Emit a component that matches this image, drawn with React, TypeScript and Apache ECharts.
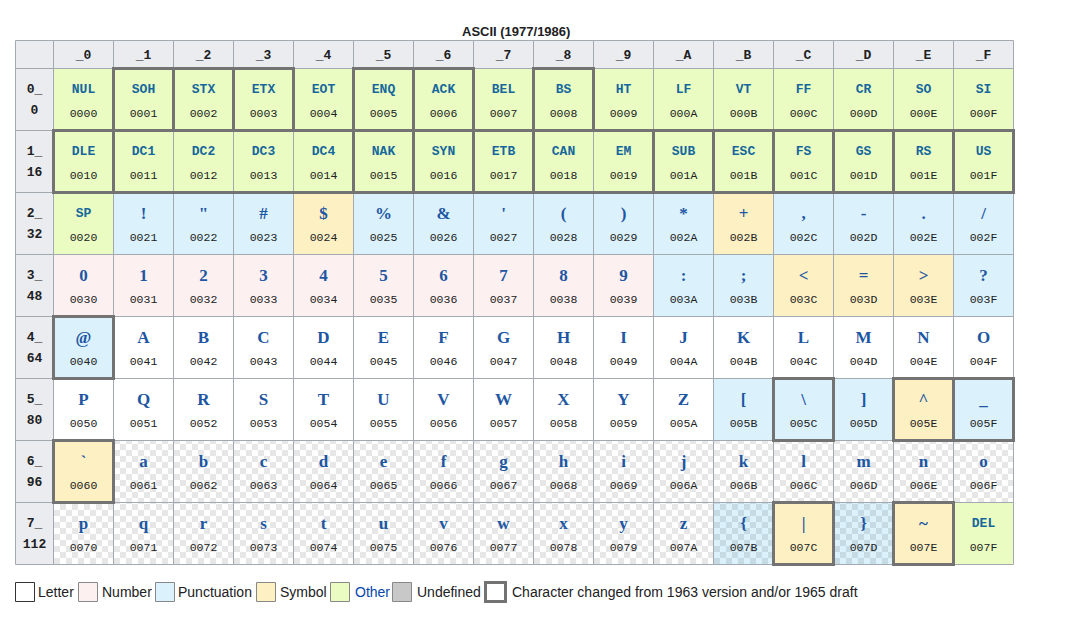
import React, { useEffect, useRef } from 'react';
import * as echarts from 'echarts';

const titleText = 'ASCII (1977/1986)';
const columnLabels = ['_0', '_1', '_2', '_3', '_4', '_5', '_6', '_7', '_8', '_9', '_A', '_B', '_C', '_D', '_E', '_F'];
const rowLabels = ['0_', '1_', '2_', '3_', '4_', '5_', '6_', '7_'];
const rowDecimals = ['0', '16', '32', '48', '64', '80', '96', '112'];
const controlNames = [
  'NUL', 'SOH', 'STX', 'ETX', 'EOT', 'ENQ', 'ACK', 'BEL', 'BS', 'HT', 'LF', 'VT', 'FF', 'CR', 'SO', 'SI',
  'DLE', 'DC1', 'DC2', 'DC3', 'DC4', 'NAK', 'SYN', 'ETB', 'CAN', 'EM', 'SUB', 'ESC', 'FS', 'GS', 'RS', 'US',
];
const specialNames: Record<number, string> = { 32: 'SP', 127: 'DEL' };
// L = letter, N = number, P = punctuation, S = symbol, O = other
const rowCategories = [
  'OOOOOOOOOOOOOOOO',
  'OOOOOOOOOOOOOOOO',
  'OPPPSPPPPPPSPPPP',
  'NNNNNNNNNNPPSSSP',
  'PLLLLLLLLLLLLLLL',
  'LLLLLLLLLLLPPPSP',
  'SLLLLLLLLLLLLLLL',
  'LLLLLLLLLLLPSPSO',
];
const patternRows = [
  '................',
  '................',
  '................',
  '................',
  '................',
  '................',
  '.XXXXXXXXXXXXXXX',
  'XXXXXXXXXXXX.X..',
];
// [row, startCol, endCol]
const changedSpans = [
  [0, 1, 1], [0, 2, 2], [0, 3, 3], [0, 5, 5], [0, 6, 6], [0, 8, 8],
  [1, 0, 0], [1, 1, 4], [1, 5, 5], [1, 6, 6], [1, 7, 7], [1, 8, 9], [1, 10, 10],
  [1, 11, 11], [1, 12, 12], [1, 13, 13], [1, 14, 14], [1, 15, 15],
  [4, 0, 0], [5, 12, 12], [5, 14, 14], [5, 15, 15], [6, 0, 0], [7, 12, 12], [7, 14, 14],
];
const legendItems = [
  { name: 'Letter', key: 'L' },
  { name: 'Number', key: 'N' },
  { name: 'Punctuation', key: 'P' },
  { name: 'Symbol', key: 'S' },
  { name: 'Other', key: 'O' },
  { name: 'Undefined', key: 'U' },
];
const changedLegend = 'Character changed from 1963 version and/or 1965 draft';

const categoryColors: Record<string, string> = {
  L: '#ffffff',
  N: '#fdf0f0',
  P: '#dbf1fc',
  S: '#fdf0c3',
  O: '#eafcc2',
  U: '#c8c8c8',
};

const X_MIN = -38 / 60;
const Y_MIN = -28 / 62;
const GRID_LINE = '#a2a9b1';
const HEADER_BG = '#eaecf0';
const SANS = "'Liberation Sans', Arial, sans-serif";
const MONO = "'Liberation Mono', 'Courier New', monospace";
const SERIF = "'Liberation Serif', 'Times New Roman', serif";

function makePattern() {
  const cv = document.createElement('canvas');
  cv.width = 12;
  cv.height = 12;
  const ctx = cv.getContext('2d')!;
  ctx.clearRect(0, 0, 12, 12);
  ctx.fillStyle = 'rgba(0,0,0,0.095)';
  ctx.fillRect(0, 0, 6, 6);
  ctx.fillRect(6, 6, 6, 6);
  return cv;
}

export default function App() {
  const ref = useRef<HTMLDivElement>(null);
  useEffect(() => {
    const chart = echarts.init(ref.current!, null, { renderer: 'svg' });
    const patternCanvas = makePattern();
    const pattern: any = { image: patternCanvas, repeat: 'repeat', imageWidth: 12, imageHeight: 12 };

    const cells: any[] = [];
    rowCategories.forEach((cats, r) => {
      for (let c = 0; c < 16; c++) {
        const code = r * 16 + c;
        const name = code < 32 ? controlNames[code] : specialNames[code];
        cells.push({
          value: [c, r],
          code,
          cat: cats[c],
          patterned: patternRows[r][c] === 'X',
          isName: !!name,
          label: name || String.fromCharCode(code),
          hex: '00' + code.toString(16).toUpperCase().padStart(2, '0'),
        });
      }
    });

    const headers: any[] = [{ value: [-1, -1], kind: 'corner' }];
    columnLabels.forEach((l, c) => headers.push({ value: [c, -1], kind: 'col', label: l }));
    rowLabels.forEach((l, r) => headers.push({ value: [-1, r], kind: 'row', label: l, sub: rowDecimals[r] }));

    const bounds = (api: any, c: number, r: number, c2?: number) => {
      const x0 = c === -1 ? X_MIN : c;
      const x1 = c === -1 ? 0 : (c2 !== undefined ? c2 : c) + 1;
      const y0 = r === -1 ? Y_MIN : r;
      const y1 = r === -1 ? 0 : r + 1;
      const p0 = api.coord([x0, y0]);
      const p1 = api.coord([x1, y1]);
      return { x: Math.round(p0[0]) + 0.5, y: Math.round(p0[1]) + 0.5, w: Math.round(p1[0]) - Math.round(p0[0]), h: Math.round(p1[1]) - Math.round(p0[1]) };
    };

    const txt = (x: number, y: number, text: string, font: string, fill: string) => ({
      type: 'text',
      x,
      y,
      style: { text, font, fill, align: 'center', verticalAlign: 'middle', textAlign: 'center', textVerticalAlign: 'middle' },
    });

    const option: any = {
      animation: false,
      backgroundColor: '#ffffff',
      title: {
        text: titleText,
        left: 457,
        top: 20,
        textStyle: { fontFamily: SANS, fontSize: 13, fontWeight: 'bold', color: '#202122' },
      },
      grid: { left: 15, top: 40, width: 998, height: 524 },
      xAxis: { type: 'value', min: X_MIN, max: 16, show: false },
      yAxis: { type: 'value', min: Y_MIN, max: 8, inverse: true, show: false },
      series: [
        {
          type: 'custom',
          name: 'headers',
          data: headers,
          z: 2,
          renderItem: (params: any, api: any) => {
            const d = headers[params.dataIndex];
            const b = bounds(api, d.value[0], d.value[1]);
            const children: any[] = [
              { type: 'rect', shape: { x: b.x, y: b.y, width: b.w, height: b.h }, style: { fill: HEADER_BG, stroke: GRID_LINE, lineWidth: 1 } },
            ];
            if (d.kind === 'col') {
              children.push(txt(b.x + b.w / 2, b.y + b.h / 2 + 1, d.label, `bold 13px ${MONO}`, '#202122'));
            } else if (d.kind === 'row') {
              children.push(txt(b.x + b.w / 2, b.y + 21, d.label, `bold 13px ${MONO}`, '#202122'));
              children.push(txt(b.x + b.w / 2, b.y + 42, d.sub, `bold 13px ${MONO}`, '#202122'));
            }
            return { type: 'group', children };
          },
        },
        {
          type: 'custom',
          name: 'cells',
          data: cells,
          z: 2,
          renderItem: (params: any, api: any) => {
            const d = cells[params.dataIndex];
            const b = bounds(api, d.value[0], d.value[1]);
            const children: any[] = [
              { type: 'rect', shape: { x: b.x, y: b.y, width: b.w, height: b.h }, style: { fill: categoryColors[d.cat], stroke: GRID_LINE, lineWidth: 1 } },
            ];
            if (d.patterned) {
              children.push({ type: 'rect', shape: { x: b.x + 0.5, y: b.y + 0.5, width: b.w - 1, height: b.h - 1 }, style: { fill: pattern } });
            }
            if (d.isName) {
              children.push(txt(b.x + b.w / 2, b.y + 20.5, d.label, `bold 13px ${MONO}`, '#16679c'));
            } else {
              children.push(txt(b.x + b.w / 2, b.y + 20.5, d.label, `bold 17px ${SERIF}`, '#1d56a2'));
            }
            children.push(txt(b.x + b.w / 2, b.y + 45, d.hex, `11.5px ${MONO}`, '#202122'));
            return { type: 'group', children };
          },
        },
        {
          type: 'custom',
          name: 'changed',
          data: changedSpans.map((s) => ({ value: [s[1], s[0], s[2]] })),
          z: 3,
          renderItem: (params: any, api: any) => {
            const s = changedSpans[params.dataIndex];
            const b = bounds(api, s[1], s[0], s[2]);
            return {
              type: 'rect',
              shape: { x: b.x, y: b.y, width: b.w, height: b.h },
              style: { fill: 'none', stroke: '#737373', lineWidth: 3 },
            };
          },
        },
      ],
      graphic: (() => {
        const els: any[] = [];
        const boxX = [15, 78, 155, 256, 330, 392];
        const textX = [38, 102, 178, 280, 355, 417];
        legendItems.forEach((it, i) => {
          els.push({
            type: 'rect',
            shape: { x: boxX[i] + 0.5, y: 582.5, width: 19, height: 19 },
            style: { fill: categoryColors[it.key], stroke: i === 0 ? '#333' : '#888', lineWidth: 1 },
          });
          els.push({
            type: 'text',
            x: textX[i],
            y: 592,
            style: {
              text: it.name,
              font: `14px ${SANS}`,
              fill: it.key === 'O' ? '#0645ad' : '#202122',
              verticalAlign: 'middle',
              textVerticalAlign: 'middle',
            },
          });
        });
        els.push({
          type: 'rect',
          shape: { x: 485.5, y: 582.5, width: 20, height: 19 },
          style: { fill: '#ffffff', stroke: '#737373', lineWidth: 3 },
        });
        els.push({
          type: 'text',
          x: 512,
          y: 592,
          style: { text: changedLegend, font: `14px ${SANS}`, fill: '#202122', verticalAlign: 'middle', textVerticalAlign: 'middle' },
        });
        return els;
      })(),
    };
    chart.setOption(option);
    return () => chart.dispose();
  }, []);
  return <div ref={ref} style={{ position: 'fixed', left: 0, top: 0, width: 1091, height: 622, background: '#fff' }} />;
}
